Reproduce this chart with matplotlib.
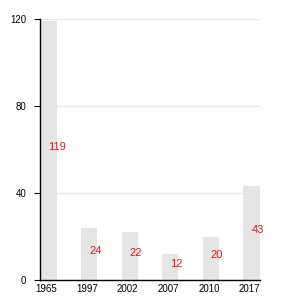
import numpy as np
import matplotlib.pyplot as plt
import matplotlib.transforms as mtransforms

plt.rcParams['font.family'] = ['Liberation Sans', 'DejaVu Sans']

years = ['1965', '1997', '2002', '2007', '2010', '2017']
values = [119, 24, 22, 12, 20, 43]

fig = plt.figure(figsize=(3, 3), dpi=100)
ax = fig.add_axes([40 / 300, 20 / 300, 220 / 300, 261 / 300])

x = np.arange(len(years))
ax.bar(x, values, width=0.4, color='#e5e5e5', zorder=2)

for xi, v in zip(x, values):
    ax.text(xi, v / 2 + 1.5, str(v), color='#e8141c', fontsize=8,
            ha='left', va='center', zorder=3)

ax.set_xlim(-0.21, 5.21)
ax.set_ylim(0, 120)
ax.set_yticks([0, 40, 80, 120])
ax.set_xticks(x)
ax.set_xticklabels(years)
ax.tick_params(axis='x', length=0, labelsize=7, pad=3)
ax.tick_params(axis='y', length=4, width=0.8, labelsize=7, pad=6)
ax.yaxis.grid(True, color='#e6e6e6', linewidth=1, zorder=0)
ax.set_axisbelow(True)

# labels sit a little left of the bar centres in the original
shift = mtransforms.ScaledTranslation(-2 / 100, 0, fig.dpi_scale_trans)
for lbl in ax.get_xticklabels():
    lbl.set_transform(lbl.get_transform() + shift)

for s in ['top', 'right']:
    ax.spines[s].set_visible(False)
ax.spines['left'].set_linewidth(1)
ax.spines['bottom'].set_linewidth(1)

fig.savefig('out.png', dpi=100)
